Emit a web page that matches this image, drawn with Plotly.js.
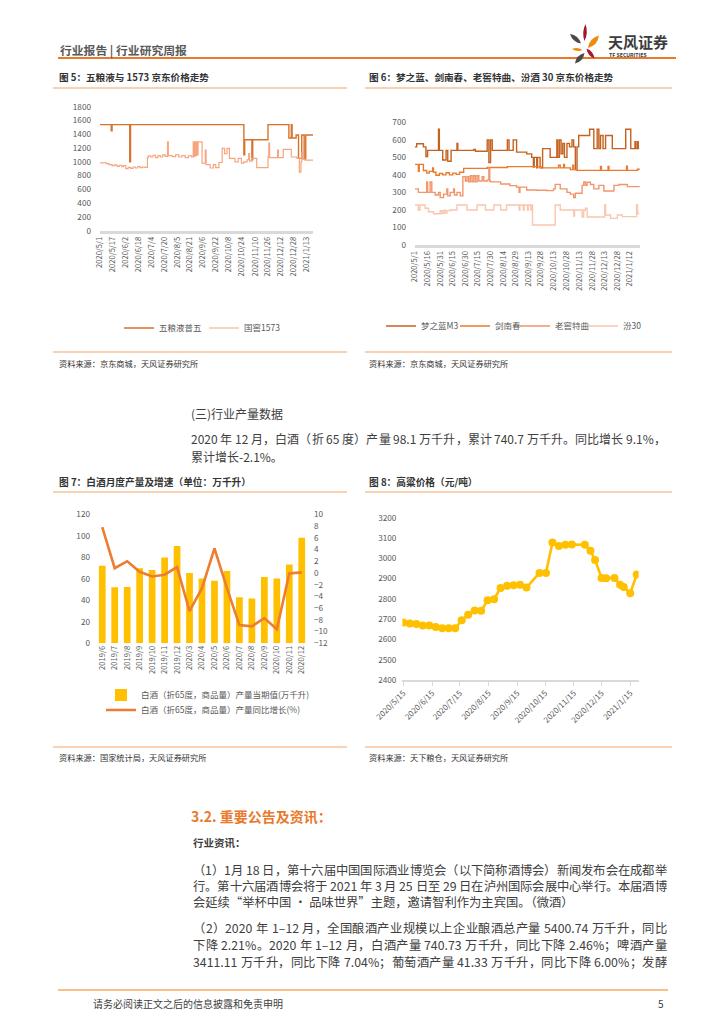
<!DOCTYPE html>
<html><head><meta charset="utf-8">
<script src="https://cdn.plot.ly/plotly-3.0.1.min.js"></script>
<style>html,body{margin:0;padding:0;background:#fff}#page{width:724px;height:1024px}</style>
</head><body><div id="page"></div>
<script>
// ---------------- DATA ----------------
// Fig 5: JD prices, Wuliangye vs Guojiao 1573 (step changes)
const c1TickLabels = ['2020/5/1','2020/5/17','2020/6/2','2020/6/18','2020/7/4','2020/7/20','2020/8/5','2020/8/21','2020/9/6','2020/9/22','2020/10/8','2020/10/24','2020/11/10','2020/11/26','2020/12/12','2020/12/28','2021/1/13'];
const wlyDates = ['2020-05-01','2020-05-15','2020-05-16','2020-06-07','2020-06-08','2020-10-27','2020-10-28','2020-11-06','2020-11-07','2020-11-26','2020-12-22','2020-12-25','2020-12-26','2020-12-31','2021-01-03','2021-01-07','2021-01-10','2021-01-12','2021-01-21'];
const wlyPrices = [1540,1450,1540,1000,1540,1100,1320,1030,1320,1540,1345,1540,1345,1390,1050,1390,1040,1390,1390];
const gjDates = ['2020-05-01','2020-05-09','2020-05-12','2020-05-16','2020-05-19','2020-05-22','2020-05-25','2020-05-28','2020-05-30','2020-06-02','2020-06-05','2020-06-08','2020-06-11','2020-06-14','2020-06-17','2020-06-20','2020-06-23','2020-06-26','2020-06-29','2020-06-30','2020-07-03','2020-07-06','2020-07-09','2020-07-12','2020-07-15','2020-07-18','2020-07-21','2020-07-24','2020-07-25','2020-07-30','2020-08-03','2020-08-07','2020-08-11','2020-08-15','2020-08-19','2020-08-23','2020-08-25','2020-08-26','2020-08-27','2020-08-28','2020-08-29','2020-08-30','2020-08-31','2020-09-05','2020-09-09','2020-09-10','2020-09-15','2020-09-19','2020-09-22','2020-09-26','2020-09-30','2020-10-03','2020-10-06','2020-10-09','2020-10-16','2020-10-20','2020-10-24','2020-10-27','2020-10-31','2020-11-02','2020-11-03','2020-11-06','2020-11-12','2020-11-26','2020-11-27','2020-11-28','2020-12-08','2020-12-09','2020-12-15','2020-12-25','2021-01-01','2021-01-04','2021-01-06','2021-01-07','2021-01-08','2021-01-11','2021-01-21'];
const gjPrices = [985,975,960,945,955,935,950,930,945,900,920,905,925,910,930,915,925,920,1060,1085,1070,1095,1060,1090,1070,1100,1080,1290,1090,1075,1100,1070,1090,1060,1085,1070,1290,1080,1290,1090,1290,1100,1290,980,1170,960,910,960,915,990,1195,1120,1195,1050,1000,1050,980,1000,1030,1120,1010,1050,915,1080,1270,1060,1170,1060,1180,1070,1050,850,1000,1130,1040,1025,1025];

// Fig 6: JD prices of four liquors (step changes)
const c2TickLabels = ['2020/5/1','2020/5/16','2020/5/31','2020/6/15','2020/6/30','2020/7/15','2020/7/30','2020/8/14','2020/8/29','2020/9/13','2020/9/28','2020/10/13','2020/10/28','2020/11/13','2020/11/28','2020/12/13','2020/12/28','2021/1/12'];
const m3Dates = ['2020-05-01','2020-05-03','2020-05-11','2020-05-14','2020-05-16','2020-05-29','2020-05-30','2020-06-03','2020-06-07','2020-06-09','2020-06-13','2020-06-20','2020-06-21','2020-07-10','2020-07-12','2020-07-26','2020-07-28','2020-07-30','2020-08-01','2020-08-19','2020-08-21','2020-08-26','2020-08-30','2020-09-11','2020-09-17','2020-09-19','2020-09-20','2020-09-23','2020-09-24','2020-09-27','2020-09-30','2020-10-09','2020-10-17','2020-10-18','2020-10-20','2020-10-22','2020-10-24','2020-10-26','2020-10-29','2020-11-01','2020-11-04','2020-11-06','2020-11-08','2020-11-10','2020-11-12','2020-11-25','2020-11-30','2020-12-04','2020-12-06','2020-12-08','2020-12-11','2020-12-14','2020-12-22','2021-01-07','2021-01-13','2021-01-18','2021-01-19','2021-01-21','2021-01-22','2021-01-23'];
const m3Prices = [560,578,560,505,540,660,540,485,540,478,540,580,540,545,535,600,470,600,540,600,540,600,530,520,500,445,500,440,500,440,550,500,600,500,600,520,580,500,580,560,600,560,430,560,625,660,550,660,550,625,550,625,550,660,550,590,550,590,550,550];
const jncDates = ['2020-05-01','2020-05-05','2020-05-06','2020-05-11','2020-05-15','2020-05-18','2020-05-22','2020-05-23','2020-05-26','2020-05-30','2020-06-03','2020-06-07','2020-06-11','2020-06-15','2020-06-19','2020-06-23','2020-06-28','2020-07-26','2020-08-19','2020-09-19','2020-09-28','2020-10-19','2020-10-21','2020-10-25','2020-10-26','2020-11-02','2020-11-05','2020-11-06','2020-11-10','2020-12-08','2020-12-09','2020-12-17','2020-12-18','2021-01-08','2021-01-09','2021-01-21','2021-01-23'];
const jncPrices = [460,420,460,425,410,420,440,415,398,408,400,412,400,410,403,415,437,442,447,447,440,455,440,460,440,430,455,430,426,448,426,448,426,450,426,432,430];
const ljDates = ['2020-05-01','2020-05-05','2020-05-15','2020-05-16','2020-05-19','2020-05-21','2020-05-25','2020-05-29','2020-05-31','2020-06-04','2020-06-08','2020-06-09','2020-06-12','2020-06-16','2020-06-17','2020-06-20','2020-06-24','2020-06-27','2020-06-30','2020-07-02','2020-07-04','2020-07-06','2020-07-08','2020-07-10','2020-07-12','2020-07-14','2020-07-16','2020-07-20','2020-07-22','2020-07-26','2020-07-28','2020-07-29','2020-07-30','2020-08-11','2020-08-22','2020-08-30','2020-09-02','2020-09-03','2020-09-11','2020-09-23','2020-10-05','2020-10-13','2020-10-15','2020-10-21','2020-10-29','2020-11-02','2020-11-06','2020-11-08','2020-11-16','2020-11-18','2020-11-20','2020-11-22','2020-11-26','2020-11-30','2020-12-06','2020-12-12','2020-12-24','2020-12-30','2021-01-09','2021-01-23'];
const ljPrices = [320,300,360,300,360,300,285,300,270,290,320,280,300,320,285,300,280,390,365,390,360,395,360,395,360,395,365,390,365,370,440,365,360,348,339,330,300,330,314,312,310,320,346,320,300,290,270,295,340,360,340,358,345,320,340,308,340,345,333,335];
const f30Dates = ['2020-05-01','2020-05-05','2020-05-07','2020-05-13','2020-05-17','2020-05-23','2020-05-31','2020-06-02','2020-06-04','2020-06-06','2020-06-08','2020-06-12','2020-06-20','2020-07-02','2020-07-14','2020-07-24','2020-08-03','2020-08-11','2020-08-18','2020-09-02','2020-09-03','2020-09-07','2020-09-08','2020-09-12','2020-09-13','2020-09-16','2020-09-17','2020-09-18','2020-10-15','2020-10-21','2020-11-06','2020-11-07','2020-11-16','2020-11-18','2020-11-20','2020-11-22','2020-12-13','2020-12-14','2020-12-20','2020-12-28','2021-01-03','2021-01-20','2021-01-21','2021-01-23'];
const f30Prices = [228,200,228,210,190,178,195,180,198,182,196,200,228,200,228,200,228,200,228,200,228,200,228,200,228,200,228,114,228,200,165,200,160,200,210,160,230,171,152,171,162,230,180,180];

// Fig 7: monthly baijiu output (10k kL) and YoY growth (%)
const c3Months = ['2019/6','2019/7','2019/8','2019/9','2019/10','2019/11','2019/12','2020/3','2020/4','2020/5','2020/6','2020/7','2020/8','2020/9','2020/10','2020/11','2020/12'];
const baijiuOutput = [72.2,52.1,52.4,69.8,68.2,79.7,90.5,65.4,60.2,58.3,67.3,42.8,41.6,61.7,60.2,73.2,98.1];
const baijiuYoY = [7.8,0.8,2.0,0.2,-0.6,-0.3,1.0,-6.5,-2.6,4.2,-2.6,-8.9,-9.1,-7.7,-9.6,-0.1,0.1];

// Fig 8: sorghum price (yuan/ton)
const c4TickLabels = ['2020/5/15','2020/6/15','2020/7/15','2020/8/15','2020/9/15','2020/10/15','2020/11/15','2020/12/15','2021/1/15'];
const sorghumDates = ['2020-05-15','2020-05-22','2020-05-29','2020-06-05','2020-06-12','2020-06-19','2020-06-26','2020-07-03','2020-07-10','2020-07-17','2020-07-24','2020-07-31','2020-08-07','2020-08-14','2020-08-21','2020-08-28','2020-09-04','2020-09-11','2020-09-18','2020-09-25','2020-10-09','2020-10-16','2020-10-23','2020-10-30','2020-11-06','2020-11-13','2020-11-27','2020-12-03','2020-12-08','2020-12-15','2020-12-20','2020-12-29','2021-01-04','2021-01-08','2021-01-15','2021-01-22'];
const sorghumPrices = [2683,2678,2676,2669,2669,2661,2655,2655,2655,2694,2722,2742,2741,2793,2798,2854,2864,2867,2869,2856,2928,2928,3078,3060,3067,3068,3067,3037,2992,2903,2902,2903,2870,2859,2828,2920];

// ---------------- PAGE ----------------
const W = 724, H = 1024;
const FONT = '"Noto Sans CJK SC", "Noto Sans", sans-serif';
const GRAY = '#595959';
const toISO = s => { const p = s.split('/'); return p[0] + '-' + p[1].padStart(2,'0') + '-' + p[2].padStart(2,'0'); };
const fx = x => x / W, fy = y => 1 - y / H;

const traces = [
  {type:'scatter', mode:'lines', x:wlyDates, y:wlyPrices, name:'五粮液普五', xaxis:'x', yaxis:'y', legend:'legend', line:{shape:'hv', color:'#D6722C', width:1.4}},
  {type:'scatter', mode:'lines', x:gjDates, y:gjPrices, name:'国窖1573', xaxis:'x', yaxis:'y', legend:'legend2', line:{shape:'hv', color:'#F6A57E', width:1.2}},
  {type:'scatter', mode:'lines', x:m3Dates, y:m3Prices, name:'梦之蓝M3', xaxis:'x2', yaxis:'y2', legend:'legend3', line:{shape:'hv', color:'#C4621F', width:1.4}},
  {type:'scatter', mode:'lines', x:jncDates, y:jncPrices, name:'剑南春', xaxis:'x2', yaxis:'y2', legend:'legend4', line:{shape:'hv', color:'#E97A2E', width:1.4}},
  {type:'scatter', mode:'lines', x:ljDates, y:ljPrices, name:'老窖特曲', xaxis:'x2', yaxis:'y2', legend:'legend5', line:{shape:'hv', color:'#F1956B', width:1.4}},
  {type:'scatter', mode:'lines', x:f30Dates, y:f30Prices, name:'汾30', xaxis:'x2', yaxis:'y2', legend:'legend6', line:{shape:'hv', color:'#F9C6AE', width:1.4}},
  {type:'bar', x:c3Months, y:baijiuOutput, name:'白酒（折65度，商品量）产量当期值(万千升)', xaxis:'x3', yaxis:'y3', legend:'legend7', marker:{color:'#FFC000'}},
  {type:'scatter', mode:'lines', x:c3Months, y:baijiuYoY, name:'白酒（折65度，商品量）产量同比增长(%)', xaxis:'x3', yaxis:'y4', legend:'legend8', line:{color:'#ED7D31', width:2.6}},
  {type:'scatter', mode:'lines+markers', x:sorghumDates, y:sorghumPrices, name:'高粱价格', xaxis:'x4', yaxis:'y5', showlegend:false, line:{color:'#FFC000', width:2.6}, marker:{color:'#FFC000', size:8}}
];

const tickFont = s => ({family:FONT, size:s, color:GRAY});
const baseAx = {showgrid:false, zeroline:false, fixedrange:true};

const ann = [];
function T(x, y, text, size, color, xa) {
  ann.push({xref:'paper', yref:'paper', x:fx(x), y:fy(y), text:text, showarrow:false,
            xanchor:xa || 'left', yanchor:'middle', font:{family:FONT, size:size, color:color}});
}
// justified text line: spread tokens so the line ends at "right"
const ctx = document.createElement('canvas').getContext('2d');
function J(x, y, text, size, color, right) {
  ctx.font = size + 'px "Noto Sans CJK SC"';
  const toks = text.match(/[A-Za-z0-9.%\-–]+|\s|./gu);
  const w = toks.map(t => ctx.measureText(t).width);
  const total = w.reduce((a, b) => a + b, 0);
  const extra = (right - x - total) / (toks.length - 1);
  let cx = x;
  toks.forEach((t, i) => { if (t.trim()) T(cx, y, t, size, color); cx += w[i] + extra; });
}
const shapes = [];
function hline(x1, x2, y, color, w) {
  shapes.push({type:'line', xref:'paper', yref:'paper', x0:fx(x1), x1:fx(x2), y0:fy(y), y1:fy(y), line:{color:color, width:w}});
}
function leaf(x1, y1, x2, y2, w, color) {
  const mx = (x1 + x2) / 2, my = (y1 + y2) / 2;
  const dx = x2 - x1, dy = y2 - y1, L = Math.hypot(dx, dy);
  const nx = -dy / L * w, ny = dx / L * w;
  const P = (x, y) => fx(x).toFixed(5) + ',' + fy(y).toFixed(5);
  shapes.push({type:'path', xref:'paper', yref:'paper', fillcolor:color, line:{width:0},
    path:'M' + P(x1,y1) + ' Q' + P(mx+nx,my+ny) + ' ' + P(x2,y2) + ' Q' + P(mx-nx,my-ny) + ' ' + P(x1,y1) + ' Z'});
}

// header
T(58, 50, '<b>行业报告 | 行业研究周报</b>', 11.8, '#595959');
hline(58, 676, 58, '#E8792B', 2);
leaf(570, 34, 581, 43.5, 4.5, '#4A4A4A');
leaf(585.5, 24, 584.5, 41, 3.6, '#A3182F');
leaf(599, 35.5, 588, 48, 5.5, '#EF8A0C');
leaf(572, 49, 582.5, 50, 2.8, '#EF8A0C');
leaf(586.5, 48.5, 594.5, 58.5, 3.8, '#A3182F');
leaf(584.5, 53, 575, 63.5, 4.8, '#4A4A4A');
T(606, 41.5, '<b>天风证券</b>', 15, '#3C3C3C');
T(607, 54.5, '<b>TF SECURITIES</b>', 5.2, '#3C3C3C');

// figure titles and rules
T(57, 77, '<b>图 5：五粮液与 1573 京东价格走势</b>', 9.6, '#333333');
T(367, 77, '<b>图 6：梦之蓝、剑南春、老窖特曲、汾酒 30 京东价格走势</b>', 9.6, '#333333');
hline(53, 347, 88, '#F7C39A', 1.5);
hline(365, 672, 88, '#F7C39A', 1.5);
hline(53, 347, 352, '#F7C39A', 1.5);
hline(365, 672, 352, '#F7C39A', 1.5);
T(57, 363, '资料来源：京东商城，天风证券研究所', 8.2, '#333333');
T(367, 363, '资料来源：京东商城，天风证券研究所', 8.2, '#333333');

T(189, 413, '(三)行业产量数据', 12, '#404040');
J(189, 438, '2020 年 12 月，白酒（折 65 度）产量 98.1 万千升，累计 740.7 万千升。同比增长 9.1%，', 12, '#404040', 664);
T(189, 456, '累计增长-2.1%。', 12, '#404040');

T(57, 482, '<b>图 7：白酒月度产量及增速（单位：万千升）</b>', 9.7, '#333333');
T(367, 482, '<b>图 8：高粱价格（元/吨）</b>', 9.7, '#333333');
hline(53, 347, 492, '#F7C39A', 1.5);
hline(365, 672, 492, '#F7C39A', 1.5);
hline(53, 347, 747, '#F7C39A', 1.5);
hline(365, 672, 747, '#F7C39A', 1.5);
T(57, 757, '资料来源：国家统计局，天风证券研究所', 8.2, '#333333');
T(367, 757, '资料来源：天下粮仓，天风证券研究所', 8.2, '#333333');

T(189, 816, '<b>3.2. 重要公告及资讯：</b>', 14, '#E8792B');
T(191, 842, '<b>行业资讯：</b>', 10.5, '#404040');
const bodyLines = [
  [870, '（1）1月 18 日，第十六届中国国际酒业博览会（以下简称酒博会）新闻发布会在成都举', true],
  [886, '行。第十六届酒博会将于 2021 年 3 月 25 日至 29 日在泸州国际会展中心举行。本届酒博', true],
  [902, '会延续“举杯中国 · 品味世界”主题，邀请智利作为主宾国。（微酒）', false],
  [928, '（2）2020 年 1–12 月，全国酿酒产业规模以上企业酿酒总产量 5400.74 万千升，同比', true],
  [945, '下降 2.21%。2020 年 1–12 月，白酒产量 740.73 万千升，同比下降 2.46%；啤酒产量', true],
  [962, '3411.11 万千升，同比下降 7.04%；葡萄酒产量 41.33 万千升，同比下降 6.00%；发酵', true]
];
bodyLines.forEach(l => l[2] ? J(191, l[0], l[1], 12.3, '#404040', 665) : T(191, l[0], l[1], 12.3, '#404040'));

hline(58, 668, 990, '#F7C08A', 2);
T(91, 1003, '请务必阅读正文之后的信息披露和免责申明', 10, '#404040');
T(666, 1003, '5', 10, '#404040', 'right');

const legFont = {family:FONT, size:8.5, color:GRAY};
const leg = (x, y) => ({x:fx(x), y:fy(y), xanchor:'left', yanchor:'middle', orientation:'h', font:legFont, bgcolor:'rgba(0,0,0,0)', itemwidth:30});

const layout = {
  width:W, height:H, margin:{l:0, r:0, t:0, b:0}, paper_bgcolor:'#fff', plot_bgcolor:'rgba(0,0,0,0)',
  font:{family:FONT, color:GRAY}, bargap:0.46,
  xaxis:Object.assign({}, baseAx, {domain:[fx(100), fx(313)], anchor:'y', type:'date', range:['2020-05-01','2021-01-21'],
    tickvals:c1TickLabels.map(toISO), ticktext:c1TickLabels, tickangle:-90, tickfont:tickFont(7.6),
    showline:true, linecolor:'#D9D9D9', linewidth:3, ticks:''}),
  yaxis:Object.assign({}, baseAx, {domain:[fy(230.7), fy(106.7)], anchor:'x', range:[0,1800], dtick:200, tickfont:tickFont(8.2), ticklabelstandoff:8}),
  xaxis2:Object.assign({}, baseAx, {domain:[fx(415), fx(640)], anchor:'y2', type:'date', range:['2020-05-01','2021-01-24'],
    tickvals:c2TickLabels.map(toISO), ticktext:c2TickLabels, tickangle:-90, tickfont:tickFont(7.6),
    showline:true, linecolor:'#D9D9D9', linewidth:3, ticks:''}),
  yaxis2:Object.assign({}, baseAx, {domain:[fy(245), fy(122.3)], anchor:'x2', range:[0,700], dtick:100, tickfont:tickFont(8.2), ticklabelstandoff:8}),
  xaxis3:Object.assign({}, baseAx, {domain:[fx(96), fx(308)], anchor:'y3', type:'category', range:[-0.5,16.5],
    tickangle:-90, tickfont:tickFont(7.6), showline:false, ticks:''}),
  yaxis3:Object.assign({}, baseAx, {domain:[fy(643.3), fy(514.3)], anchor:'x3', range:[0,120], dtick:20, tickfont:tickFont(8.2), ticklabelstandoff:5}),
  yaxis4:Object.assign({}, baseAx, {overlaying:'y3', side:'right', anchor:'x3', range:[-12,10], dtick:2, tickfont:tickFont(8.2), ticklabelstandoff:5}),
  xaxis4:Object.assign({}, baseAx, {domain:[fx(402.4), fx(638.6)], anchor:'y5', type:'date', range:['2020-05-14','2021-01-24'],
    tickvals:c4TickLabels.map(toISO), ticktext:c4TickLabels, tickangle:-45, tickfont:tickFont(8),
    showline:true, linecolor:'#D9D9D9', linewidth:1.5, ticks:'outside', ticklen:4, tickcolor:'#D9D9D9'}),
  yaxis5:Object.assign({}, baseAx, {domain:[fy(680), fy(517.7)], anchor:'x4', range:[2400,3200], dtick:100, tickfont:tickFont(8.2), ticklabelstandoff:5}),
  legend:leg(119, 328),
  legend2:leg(204, 328),
  legend3:leg(381, 326),
  legend4:leg(455, 326),
  legend5:leg(515, 326),
  legend6:leg(583, 326),
  legend7:leg(101, 695),
  legend8:leg(101, 710),
  annotations:ann, shapes:shapes
};

Plotly.newPlot('page', traces, layout, {staticPlot:true, displayModeBar:false});
</script>
</body></html>
